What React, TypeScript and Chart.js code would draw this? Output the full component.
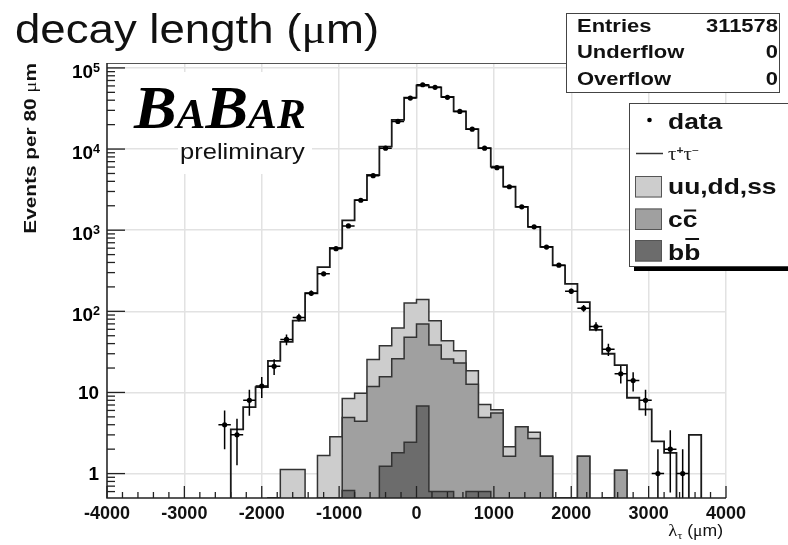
import React, { useEffect, useRef } from "react";
import { Chart, registerables } from "chart.js";

Chart.register(...registerables);

const SANS = "'Liberation Sans', Arial, Helvetica, sans-serif";
const SERIF = "'Liberation Serif', 'Times New Roman', serif";

// axis ranges
const X_MIN = -4000;
const X_MAX = 4000;
const BIN_WIDTH = 160;
const Y_MIN = 0.5;
const Y_MAX = 1.15e5;

const yDecades = [1, 10, 100, 1000, 10000, 100000];
const yDecadeBase = ["1", "10", "10", "10", "10", "10"];
const yDecadeExp = ["", "", "2", "3", "4", "5"];

// 50 bins of 160 µm from -4000 to 4000 µm
const dataCounts = [
  0, 0, 0, 0, 0, 0, 0, 0, 0, 4,
  3, 8, 12, 21, 45, 84, 167, 290, 592, 1130,
  2340, 4700, 10240, 21900, 42500, 62000, 57700, 43400, 29100, 17600,
  10240, 5900, 3430, 1940, 1100, 620, 370, 177, 109, 65,
  34, 17, 14, 8, 1, 2, 1, 0, 0, 0,
];
const tautauMC = [
  0, 0, 0, 0, 0, 0, 0, 0, 0, 0,
  3.5, 6.6, 11.6, 24.5, 42, 77, 167, 351, 604, 1320,
  2344, 4787, 10740, 22900, 43100, 60700, 57700, 44000, 29100, 17600,
  10240, 6070, 3435, 1941, 1098, 621, 368, 218, 130, 59,
  30, 21.7, 8.6, 6.2, 2.5, 1.8, 0, 3.0, 0, 0,
];
const udsValues = [
  0, 0, 0, 0, 0, 0, 0, 0, 0, 0,
  0, 0, 0, 0, 1.12, 0.82, 0, 1.37, 2.55, 3.5,
  5.4, 13.7, 21.9, 36.5, 79.2, 69.8, 38.3, 17.6, 9.6, 5.9,
  2.2, 0.5, 0.5, 0, 0.54, 0, 0, 0, 0, 0,
  0, 0, 0, 0, 0, 0, 0, 0, 0, 0,
];
const ccValues = [
  0, 0, 0, 0, 0, 0, 0, 0, 0, 0,
  0, 0, 0, 0.3, 0, 0.3, 0, 0.3, 0.3, 4.3,
  4.4, 11.8, 14.4, 24.2, 45.4, 63, 37.8, 25.2, 23, 12,
  4.3, 5.6, 1.64, 3.79, 2.7, 1.64, 0.3, 0.3, 1.64, 0,
  0.3, 1.1, 0, 0, 0, 0, 0, 0, 0, 0,
];
const bbValues = [
  0, 0, 0, 0, 0, 0, 0, 0, 0, 0,
  0, 0, 0, 0, 0, 0, 0, 0, 0, 0.62,
  0, 0, 1.23, 1.8, 2.44, 6.8, 0.6, 0.6, 0, 0.6,
  0.6, 0, 0, 0, 0, 0, 0, 0, 0, 0,
  0, 0, 0, 0, 0, 0, 0, 0, 0, 0,
];

const statLabels = ["Entries", "Underflow", "Overflow"];
const statValues = ["311578", "0", "0"];

const COL_UDS = "#cdcdcd";
const COL_CC = "#a0a0a0";
const COL_BB = "#6c6c6c";
const COL_OUT = "#333333";

const FLOOR = 0.05;

function histPoints(values: number[]) {
  const n = values.length;
  const v = (a: number) => (a <= 0 ? FLOOR : Math.max(a, Y_MIN));
  const pts: { x: number; y: number }[] = [];
  pts.push({ x: X_MIN, y: FLOOR });
  for (let i = 0; i < n; i++) pts.push({ x: X_MIN + i * BIN_WIDTH, y: v(values[i]) });
  pts.push({ x: X_MIN + n * BIN_WIDTH, y: v(values[n - 1]) });
  pts.push({ x: X_MIN + n * BIN_WIDTH, y: FLOOR });
  return pts;
}

type Seg = { t: string; f: string; dy?: number; over?: number };

function drawSegs(
  ctx: CanvasRenderingContext2D,
  segs: Seg[],
  x: number,
  y: number,
  align: "left" | "right" | "center",
  sx = 1,
  color = "#000"
) {
  ctx.save();
  ctx.textAlign = "left";
  ctx.textBaseline = "alphabetic";
  const widths = segs.map((s) => {
    ctx.font = s.f;
    return ctx.measureText(s.t).width;
  });
  const total = widths.reduce((a, b) => a + b, 0) * sx;
  let x0 = x;
  if (align === "right") x0 = x - total;
  else if (align === "center") x0 = x - total / 2;
  ctx.translate(x0, y);
  ctx.scale(sx, 1);
  ctx.fillStyle = color;
  let px = 0;
  segs.forEach((s, i) => {
    ctx.font = s.f;
    ctx.fillText(s.t, px, s.dy || 0);
    if (s.over !== undefined) {
      ctx.fillRect(px + 1, s.over, widths[i] - 2, 2);
    }
    px += widths[i];
  });
  ctx.restore();
  return total;
}

const decorPlugin = {
  id: "decor",
  afterDatasetsDraw(chart: any) {
    const ctx: CanvasRenderingContext2D = chart.ctx;
    const xs = chart.scales.x;
    const ys = chart.scales.y;
    const { left, right, top, bottom } = chart.chartArea;

    // error bars on data
    ctx.save();
    ctx.beginPath();
    ctx.rect(left, top, right - left, bottom - top);
    ctx.clip();
    ctx.strokeStyle = "#000";
    ctx.lineWidth = 1.5;
    dataCounts.forEach((c, i) => {
      if (c <= 0) return;
      const err = Math.sqrt(c);
      const xc = X_MIN + (i + 0.5) * BIN_WIDTH;
      const px = xs.getPixelForValue(xc);
      const py = ys.getPixelForValue(c);
      const lo = c - err;
      const pyLo = lo > 0 ? ys.getPixelForValue(lo) : bottom + 2;
      const pyHi = ys.getPixelForValue(c + err);
      ctx.beginPath();
      ctx.moveTo(px, pyLo);
      ctx.lineTo(px, pyHi);
      ctx.moveTo(xs.getPixelForValue(xc - BIN_WIDTH / 2), py);
      ctx.lineTo(xs.getPixelForValue(xc + BIN_WIDTH / 2), py);
      ctx.stroke();
    });
    ctx.restore();

    // frame
    ctx.save();
    ctx.strokeStyle = "#555";
    ctx.lineWidth = 1.2;
    ctx.beginPath();
    ctx.moveTo(left, top + 0.5);
    ctx.lineTo(right, top + 0.5);
    ctx.stroke();
    ctx.strokeStyle = "#222";
    ctx.lineWidth = 1.5;
    ctx.beginPath();
    ctx.moveTo(left, top);
    ctx.lineTo(left, bottom);
    ctx.lineTo(right, bottom);
    ctx.stroke();

    // x ticks
    ctx.lineWidth = 1.3;
    for (let v = X_MIN; v <= X_MAX; v += 200) {
      const px = xs.getPixelForValue(v);
      const len = v % 1000 === 0 ? 12 : 6;
      ctx.beginPath();
      ctx.moveTo(px, bottom);
      ctx.lineTo(px, bottom - len);
      ctx.stroke();
    }
    // y ticks
    for (let d = 0.1; d < Y_MAX; d *= 10) {
      for (let k = 1; k <= 9; k++) {
        const v = k * d;
        if (v <= Y_MIN * 1.01 || v > Y_MAX) continue;
        const py = ys.getPixelForValue(v);
        const len = k === 1 ? 18 : 8;
        ctx.beginPath();
        ctx.moveTo(left, py);
        ctx.lineTo(left + len, py);
        ctx.stroke();
      }
    }
    ctx.restore();
  },
  afterDraw(chart: any) {
    const ctx: CanvasRenderingContext2D = chart.ctx;
    const ys = chart.scales.y;

    // y tick labels
    yDecades.forEach((v, i) => {
      const py = ys.getPixelForValue(v);
      const base = yDecadeBase[i];
      const ex = yDecadeExp[i];
      if (ex) {
        const ew = drawSegs(ctx, [{ t: ex, f: `bold 12px ${SANS}` }], 100, py + 4, "right", 1.05);
        drawSegs(ctx, [{ t: base, f: `bold 18px ${SANS}` }], 100 - ew, py + 10, "right", 1.05);
      } else {
        drawSegs(ctx, [{ t: base, f: `bold 18px ${SANS}` }], 99, py + 6.5, "right", 1.05);
      }
    });

    // title
    drawSegs(
      ctx,
      [
        { t: "decay length (", f: `40px ${SANS}` },
        { t: "\u03bc", f: `40px ${SERIF}` },
        { t: "m)", f: `40px ${SANS}` },
      ],
      15,
      43,
      "left",
      1.14,
      "#111"
    );

    // y axis title
    ctx.save();
    ctx.translate(36, 63);
    ctx.rotate(-Math.PI / 2);
    drawSegs(
      ctx,
      [
        { t: "Events per 80 ", f: `bold 16px ${SANS}` },
        { t: "\u03bc", f: `16px ${SERIF}` },
        { t: "m", f: `bold 16px ${SANS}` },
      ],
      0,
      0,
      "right",
      1.3,
      "#111"
    );
    ctx.restore();

    // x axis title
    drawSegs(
      ctx,
      [
        { t: "\u03bb", f: `17px ${SERIF}` },
        { t: "\u03c4", f: `11px ${SERIF}`, dy: 3 },
        { t: " (", f: `16px ${SANS}` },
        { t: "\u03bc", f: `16px ${SERIF}` },
        { t: "m)", f: `16px ${SANS}` },
      ],
      723,
      536,
      "right",
      1.1,
      "#111"
    );

    // BABAR logo with white background
    ctx.save();
    ctx.fillStyle = "#fff";
    ctx.fillRect(128, 72, 190, 66);
    ctx.fillRect(178, 137, 134, 37);
    ctx.restore();
    drawSegs(
      ctx,
      [
        { t: "B", f: `italic bold 62px ${SERIF}` },
        { t: "A", f: `italic bold 42px ${SERIF}` },
        { t: "B", f: `italic bold 62px ${SERIF}` },
        { t: "A", f: `italic bold 42px ${SERIF}` },
        { t: "R", f: `italic bold 42px ${SERIF}` },
      ],
      134,
      128,
      "left",
      1.03,
      "#000"
    );
    drawSegs(ctx, [{ t: "preliminary", f: `22px ${SANS}` }], 180, 159, "left", 1.16, "#111");

    // stats box
    ctx.save();
    ctx.fillStyle = "#fff";
    ctx.fillRect(566, 13, 214, 80);
    ctx.strokeStyle = "#444";
    ctx.lineWidth = 1;
    ctx.strokeRect(566.5, 13.5, 213, 79);
    ctx.restore();
    const statBase = [31.5, 58.3, 85];
    statLabels.forEach((s, i) => {
      drawSegs(ctx, [{ t: s, f: `bold 18px ${SANS}` }], 577, statBase[i], "left", 1.22, "#111");
      drawSegs(ctx, [{ t: statValues[i], f: `bold 18px ${SANS}` }], 778, statBase[i], "right", 1.22, "#111");
    });

    // legend box
    ctx.save();
    ctx.fillStyle = "#000";
    ctx.fillRect(634, 266, 160, 5);
    ctx.fillStyle = "#fff";
    ctx.fillRect(629, 103, 165, 164);
    ctx.strokeStyle = "#444";
    ctx.lineWidth = 1;
    ctx.strokeRect(629.5, 103.5, 170, 163);
    // data marker
    ctx.fillStyle = "#000";
    ctx.beginPath();
    ctx.arc(649.5, 120, 2.3, 0, Math.PI * 2);
    ctx.fill();
    // tau line
    ctx.strokeStyle = "#333";
    ctx.lineWidth = 1.5;
    ctx.beginPath();
    ctx.moveTo(636, 153.5);
    ctx.lineTo(663, 153.5);
    ctx.stroke();
    // fill boxes
    const boxes: [number, string][] = [
      [176, COL_UDS],
      [208.5, COL_CC],
      [240, COL_BB],
    ];
    boxes.forEach(([y, c]) => {
      ctx.fillStyle = c;
      ctx.fillRect(635, y, 27, 21.5);
      ctx.strokeStyle = "#555";
      ctx.lineWidth = 1;
      ctx.strokeRect(635.5, y + 0.5, 26, 20.5);
    });
    ctx.restore();

    drawSegs(ctx, [{ t: "data", f: `bold 22px ${SANS}` }], 668, 128.5, "left", 1.2, "#111");
    drawSegs(
      ctx,
      [
        { t: "\u03c4", f: `19px ${SERIF}` },
        { t: "+", f: `bold 11px ${SANS}`, dy: -6 },
        { t: "\u03c4", f: `19px ${SERIF}` },
        { t: "\u2212", f: `11px ${SANS}`, dy: -6 },
      ],
      668,
      160,
      "left",
      1.1,
      "#222"
    );
    drawSegs(ctx, [{ t: "uu,dd,ss", f: `bold 22px ${SANS}` }], 668, 193.5, "left", 1.2, "#111");
    drawSegs(
      ctx,
      [
        { t: "c", f: `bold 22px ${SANS}` },
        { t: "c", f: `bold 22px ${SANS}`, over: -17.5 },
      ],
      668,
      227,
      "left",
      1.2,
      "#111"
    );
    drawSegs(
      ctx,
      [
        { t: "b", f: `bold 22px ${SANS}` },
        { t: "b", f: `bold 22px ${SANS}`, over: -22 },
      ],
      668,
      260,
      "left",
      1.2,
      "#111"
    );
  },
};

export default function App() {
  const ref = useRef<HTMLCanvasElement>(null);

  useEffect(() => {
    const canvas = ref.current;
    if (!canvas) return;

    const ccStack = ccValues.map((v, i) => v + bbValues[i]);
    const totalStack = udsValues.map((v, i) => v + ccStack[i]);
    const dataPoints = dataCounts
      .map((c, i) => ({ x: X_MIN + (i + 0.5) * BIN_WIDTH, y: c }))
      .filter((p) => p.y > 0);

    const chart = new Chart(canvas, {
      type: "line",
      data: {
        datasets: [
          {
            label: "data",
            data: dataPoints,
            showLine: false,
            pointRadius: 2.6,
            pointBackgroundColor: "#000",
            pointBorderWidth: 0,
            pointHoverRadius: 0,
          } as any,
          {
            label: "bb",
            data: histPoints(bbValues),
            stepped: true,
            borderColor: COL_OUT,
            borderWidth: 1.5,
            backgroundColor: COL_BB,
            fill: "start",
            pointRadius: 0,
          },
          {
            label: "cc",
            data: histPoints(ccStack),
            stepped: true,
            borderColor: COL_OUT,
            borderWidth: 1.5,
            backgroundColor: COL_CC,
            fill: "start",
            pointRadius: 0,
          },
          {
            label: "uu,dd,ss",
            data: histPoints(totalStack),
            stepped: true,
            borderColor: COL_OUT,
            borderWidth: 1.5,
            backgroundColor: COL_UDS,
            fill: "start",
            pointRadius: 0,
          },
          {
            label: "tautau",
            data: histPoints(tautauMC),
            stepped: true,
            borderColor: "#1a1a1a",
            borderWidth: 1.8,
            fill: false,
            pointRadius: 0,
          },
        ],
      },
      options: {
        animation: false,
        responsive: false,
        events: [],
        layout: { padding: { left: 0, right: 62, top: 63, bottom: 0 } },
        plugins: {
          legend: { display: false },
          tooltip: { enabled: false },
          title: { display: false },
        },
        scales: {
          x: {
            type: "linear",
            min: X_MIN,
            max: X_MAX,
            border: { display: false },
            grid: { color: "#e2e2e2", lineWidth: 1.5, drawTicks: false },
            ticks: {
              stepSize: 1000,
              autoSkip: false,
              maxRotation: 0,
              padding: 5,
              color: "#111",
              font: { family: SANS, size: 18, weight: "bold" },
              callback: (v: any) => String(v),
            },
            afterFit: (s: any) => {
              s.height = 47;
            },
          },
          y: {
            type: "logarithmic",
            min: Y_MIN,
            max: Y_MAX,
            border: { display: false },
            grid: { color: "#e2e2e2", lineWidth: 1.5, drawTicks: false },
            ticks: { display: false },
            afterBuildTicks: (s: any) => {
              s.ticks = yDecades.map((v) => ({ value: v }));
            },
            afterFit: (s: any) => {
              s.width = 107;
            },
          },
        },
      } as any,
      plugins: [decorPlugin],
    });

    return () => chart.destroy();
  }, []);

  return (
    <div style={{ position: "fixed", left: 0, top: 0, width: 788, height: 545, background: "#fff" }}>
      <canvas ref={ref} width={788} height={545} style={{ width: 788, height: 545, display: "block" }} />
    </div>
  );
}
